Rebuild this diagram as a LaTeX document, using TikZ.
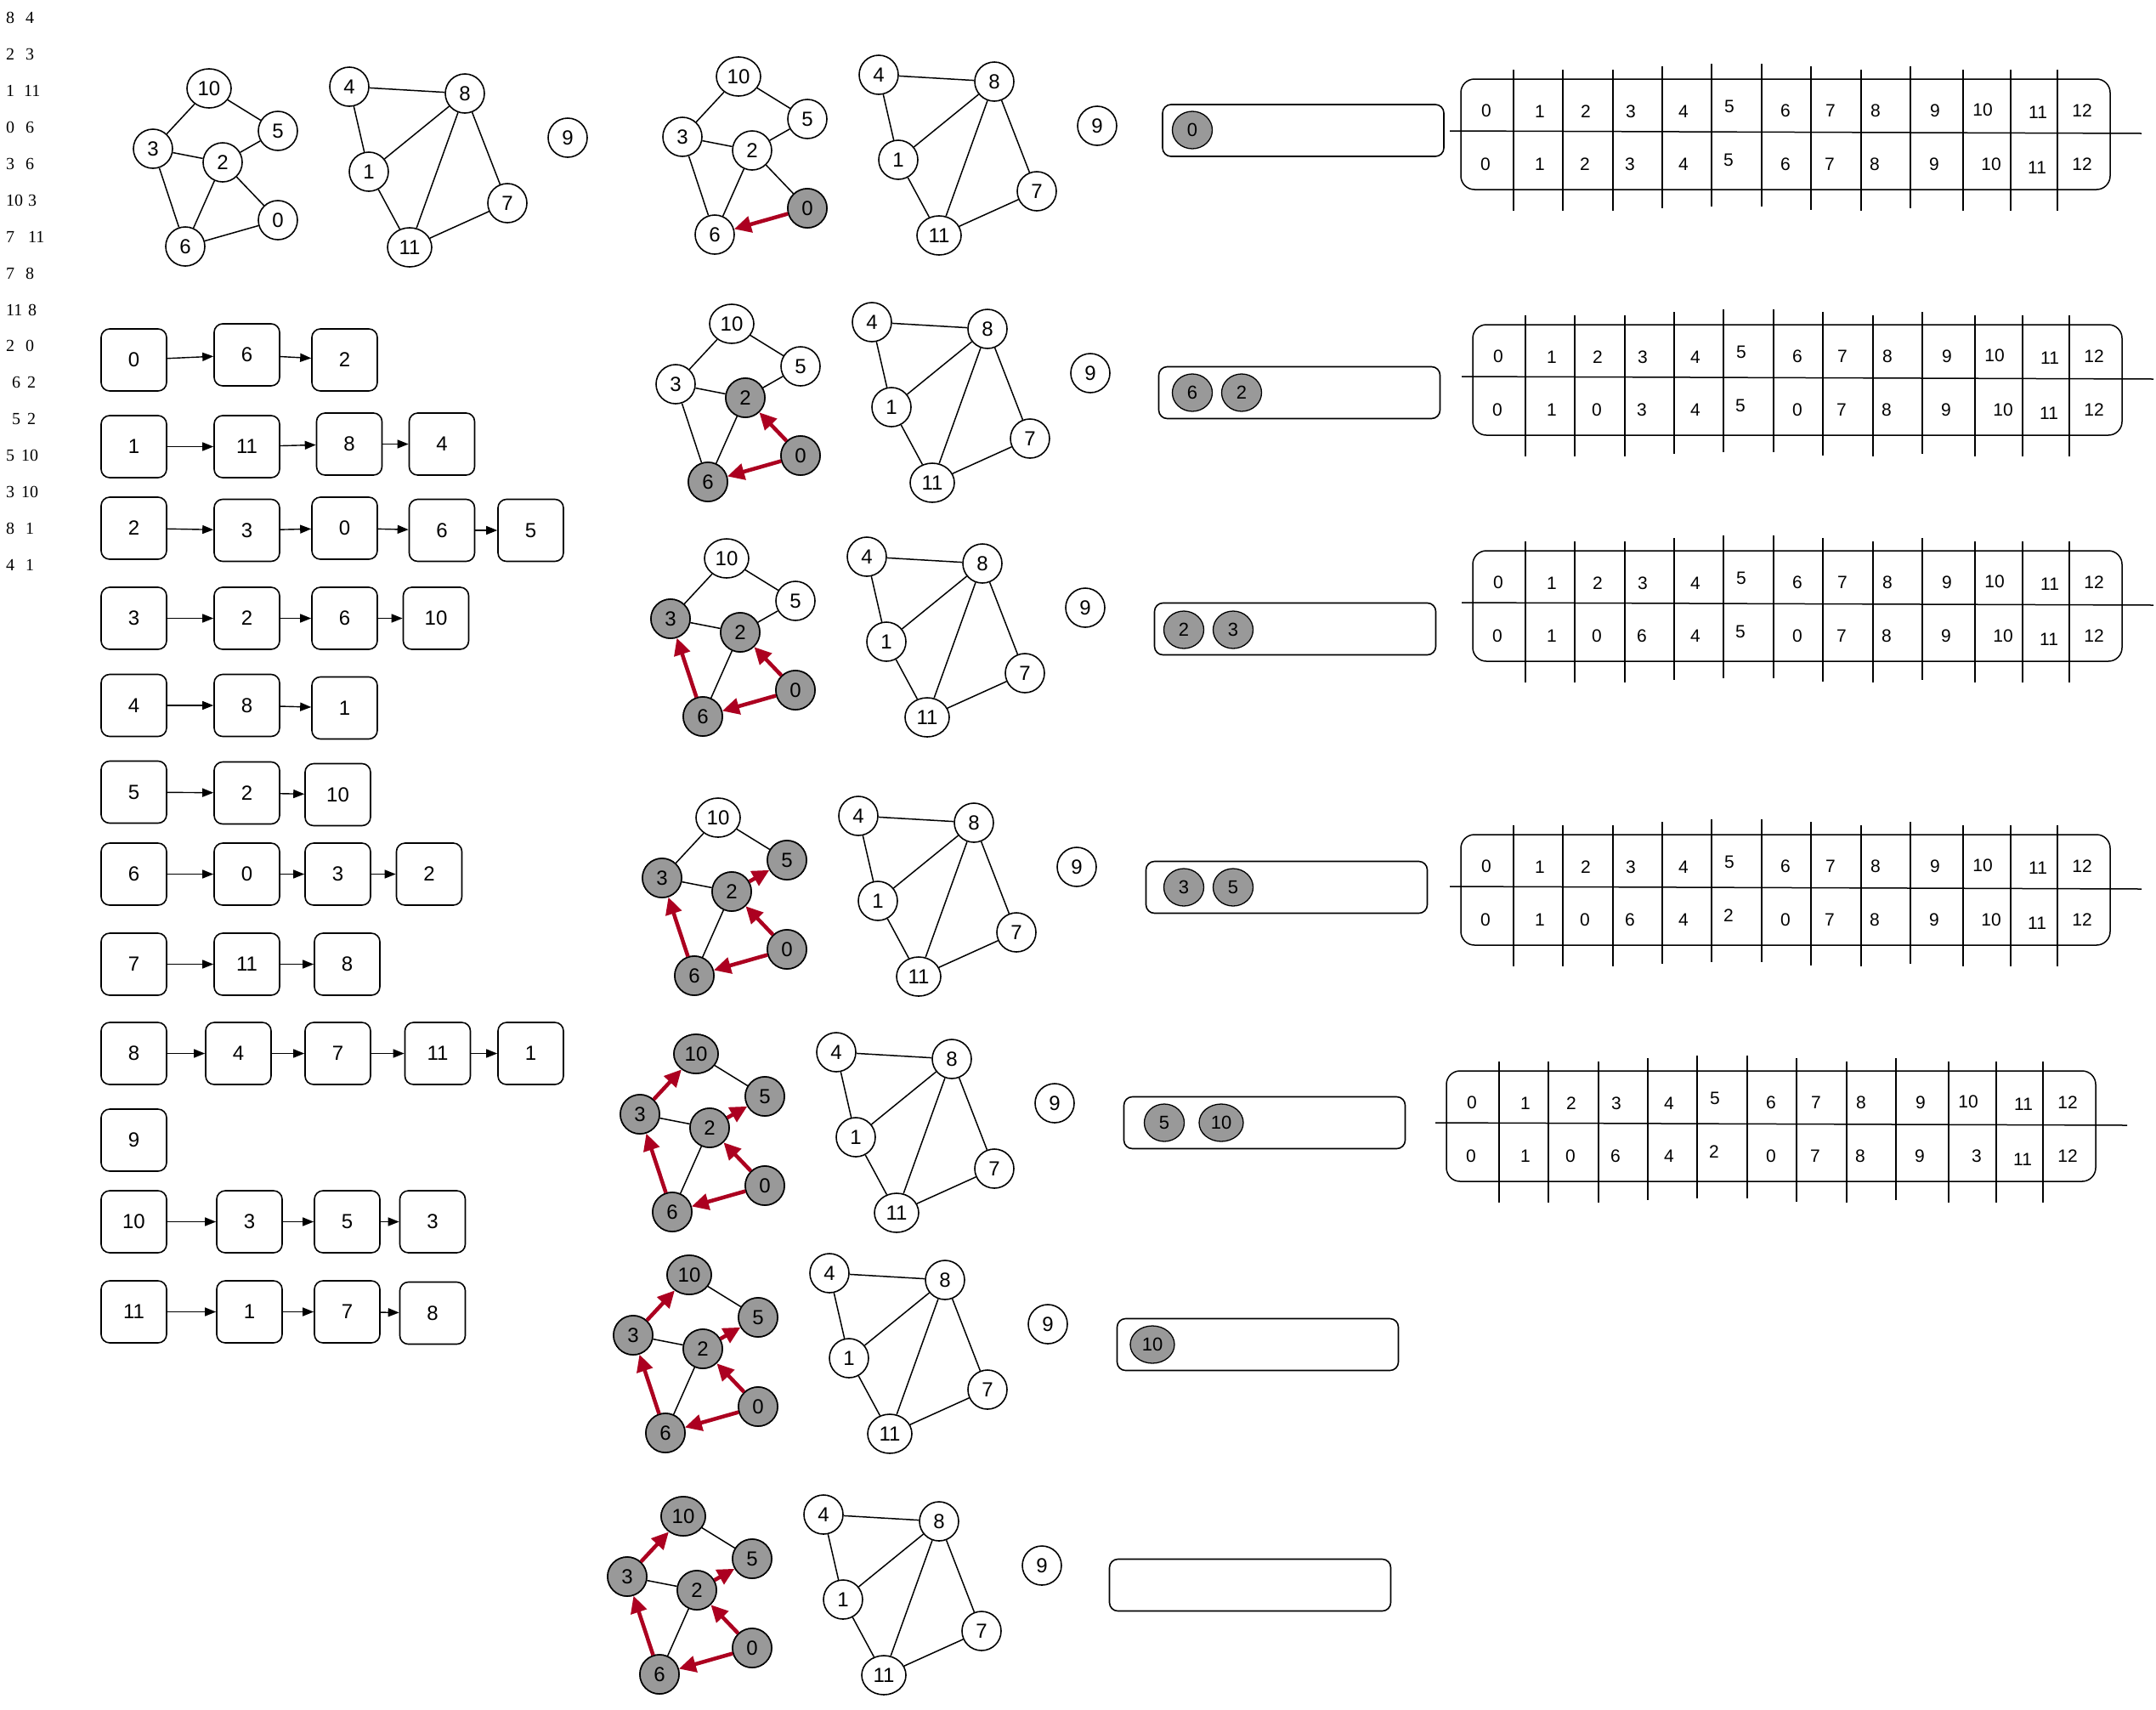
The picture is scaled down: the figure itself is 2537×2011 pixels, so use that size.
\documentclass[tikz,border=0pt]{standalone}
\usepackage{fontspec}
\setmainfont{Liberation Sans}
\newfontfamily\myserif{Liberation Serif}
\usetikzlibrary{shapes.geometric,arrows.meta}
\definecolor{ngray}{HTML}{999999}
\definecolor{redarr}{HTML}{AC0020}
\newcommand\myGfont{\fontsize{24}{28}\selectfont}
\newcommand\myQfont{\fontsize{22}{26}\selectfont}
\newcommand\myTfont{\fontsize{21}{25}\selectfont}
\newcommand\myLfont{\myserif\fontsize{20}{24}\selectfont}
\tikzset{
  gnode/.style={draw, ellipse, fill=white, minimum height=46pt, inner sep=0pt, line width=1.6pt, font=\myGfont},
  gedge/.style={line width=1.5pt},
  redarrow/.style={draw=redarr, line width=4.5pt, -{Triangle[length=20pt,width=19pt]}},
  qbox/.style={draw, rounded corners=10pt, minimum width=331pt, minimum height=61pt, line width=1.6pt},
  qnode/.style={draw, ellipse, fill=ngray, minimum width=47pt, minimum height=44pt, inner sep=0pt, line width=1.3pt, font=\myQfont},
  abox/.style={draw, rounded corners=10pt, minimum width=77pt, minimum height=73pt, line width=1.6pt, font=\myGfont},
  larrow/.style={line width=1.4pt, -{Triangle[length=13pt,width=10pt]}},
  tline/.style={line width=1.5pt},
  tnum/.style={font=\myTfont, inner sep=1pt},
  ltxt/.style={font=\myLfont, anchor=west, inner sep=0pt}
}
% graph copy: #1 prefix, #2 #3 shift, #4 gray nodes, #5 black edges, #6 red arrows
\newcommand\mygraph[6]{%
\begin{scope}[shift={(#2,#3)}]
 \foreach \n/\px/\py in {0/327/259, 1/434/202, 2/262/191, 3/180/175, 4/411/102, 5/327/154, 6/218/290, 7/597/239, 8/547/110, 9/668/162, 10/246/104, 11/482/291}{%
   \pgfmathsetmacro\ww{\n>9?52:46}
   \node[gnode, minimum width=\ww pt] (#1-\n) at (\px,\py) {\n};}
 \foreach \n in {#4}{%
   \pgfmathsetmacro\ww{\n>9?52:46}
   \node[gnode, fill=ngray, minimum width=\ww pt] at (#1-\n) {\n};}
 \foreach \a/\b in {#5}{\draw[gedge] (#1-\a) -- (#1-\b);}
 \foreach \a/\b in {#6}{\draw[redarrow] (#1-\a) -- (#1-\b);}
\end{scope}}
% table: #1 prefix, #2 #3 top-left, #4 bottom values
\newcommand\mytable[4]{%
\begin{scope}[shift={(#2,#3)}]
 \draw[tline, rounded corners=16pt] (0,0) rectangle (764,130);
 \coordinate (#1-hl) at (-13,61);
 \coordinate (#1-hr) at (801,64);
 \draw[tline] (#1-hl) -- (#1-hr);
 \foreach \lx/\ta/\tb [count=\k] in {62/-11/155, 120/-11/155, 179/-11/155, 237/-15/152, 295/-18/150, 354/-18/150, 412/-15/154, 471/-11/155, 529/-15/152, 591/-11/155, 647/-11/155, 702/-11/155}{%
   \coordinate (#1-v\k a) at (\lx,\ta);
   \coordinate (#1-v\k b) at (\lx,\tb);
   \draw[tline] (#1-v\k a) -- (#1-v\k b);}
 \foreach \v/\tx/\ty in {0/30/37, 1/93/38, 2/147/38, 3/200/38, 4/262/38, 5/316/32, 6/382/37, 7/435/37, 8/488/37, 9/558/37, 10/614/36, 11/679/39, 12/731/37}{%
   \node[tnum] (#1-t\v) at (\tx,\ty) {\v};}
 \foreach \v [count=\i] in {#4}{%
   \pgfmathsetmacro\tx{{29,93,146,199,262,315,382,434,487,557,624,678,731}[\i-1]}
   \pgfmathsetmacro\ty{{100,100,100,100,100,95,100,100,100,100,100,104,100}[\i-1]}
   \node[tnum] (#1-b\i) at (\tx,\ty) {\v};}
\end{scope}}
% adjacency row: #1 id, #2 list val/x/y, #3 count
\newcommand\adjrow[3]{%
 \foreach \v/\px/\py [count=\k] in {#2}{\node[abox] (a#1-\k) at (\px,\py) {\v};}
 \ifnum#3>1
 \foreach \k [evaluate=\k as \p using int(\k-1)] in {2,...,#3}{\draw[larrow] (a#1-\p) -- (a#1-\k);}
 \fi}
\begin{document}
\begin{tikzpicture}[x=1pt,y=-1pt]
\fill[white] (0,0) rectangle (2537,2011);
\useasboundingbox (0,0) rectangle (2537,2011);
% edge list text
\foreach \ea/\eb/\xa/\xb [count=\i] in {8/4/7/30, 2/3/7/30, 1/11/7/28, 0/6/7/30, 3/6/7/30, 10/3/7/33, 7/11/7/33, 7/8/7/30, 11/8/7/33, 2/0/7/30, 6/2/14/32, 5/2/14/32, 5/10/7/25, 3/10/7/25, 8/1/7/30, 4/1/7/30}{%
  \pgfmathsetmacro\yy{21+42.93*(\i-1)}
  \node[ltxt] (la\i) at (\xa,\yy) {\ea};
  \node[ltxt] (lb\i) at (\xb,\yy) {\eb};}
% original graph
\mygraph{g0}{0}{0}{}{10/5, 10/3, 3/2, 2/5, 3/6, 2/6, 2/0, 6/0, 4/8, 4/1, 1/8, 1/11, 8/11, 8/7, 7/11}{}
% adjacency lists
\adjrow{0}{0/157.5/423.5, 6/290.5/417.5, 2/405.5/423.5}{3}
\adjrow{1}{1/157.5/525.5, 11/290.5/525.5, 8/411/522.5, 4/520/522.5}{4}
\adjrow{2}{2/157.5/621.5, 3/290.5/624, 0/405.5/621.5, 6/520/624, 5/624.5/624}{5}
\adjrow{3}{3/157.5/727.5, 2/290.5/727.5, 6/405.5/727.5, 10/513/727.5}{4}
\adjrow{4}{4/157.5/830, 8/290.5/830, 1/405.5/833}{3}
\adjrow{5}{5/157.5/932, 2/290.5/933, 10/397.5/935}{3}
\adjrow{6}{6/157.5/1028.5, 0/290.5/1028.5, 3/397.5/1028.5, 2/505/1028.5}{4}
\adjrow{7}{7/157.5/1134.5, 11/290.5/1134.5, 8/408.5/1134.5}{3}
\adjrow{8}{8/157.5/1239.5, 4/280.5/1239.5, 7/397.5/1239.5, 11/515/1239.5, 1/624.5/1239.5}{5}
\adjrow{9}{9/157.5/1341.5}{1}
\adjrow{10}{10/157.5/1437.5, 3/293.5/1437.5, 5/408.5/1437.5, 3/509/1437.5}{4}
\adjrow{11}{11/157.5/1543.5, 1/293.5/1543.5, 7/408.5/1543.5, 8/509/1545}{4}
% BFS stages
\mygraph{g1}{623}{-14}{0}{10/5, 10/3, 3/2, 2/5, 3/6, 2/6, 2/0, 4/8, 4/1, 1/8, 1/11, 8/11, 8/7, 7/11}{0/6}
\mygraph{g2}{615}{277}{0,2,6}{10/5, 10/3, 3/2, 2/5, 3/6, 2/6, 4/8, 4/1, 1/8, 1/11, 8/11, 8/7, 7/11}{0/6, 0/2}
\mygraph{g3}{609}{553}{0,2,6,3}{10/5, 10/3, 3/2, 2/5, 2/6, 4/8, 4/1, 1/8, 1/11, 8/11, 8/7, 7/11}{0/6, 0/2, 6/3}
\mygraph{g4}{599}{858}{0,2,6,3,5}{10/5, 10/3, 3/2, 2/6, 4/8, 4/1, 1/8, 1/11, 8/11, 8/7, 7/11}{0/6, 0/2, 6/3, 2/5}
\mygraph{g5}{573}{1136}{0,2,6,3,5,10}{10/5, 3/2, 2/6, 4/8, 4/1, 1/8, 1/11, 8/11, 8/7, 7/11}{0/6, 0/2, 6/3, 2/5, 3/10}
\mygraph{g6}{565}{1396}{0,2,6,3,5,10}{10/5, 3/2, 2/6, 4/8, 4/1, 1/8, 1/11, 8/11, 8/7, 7/11}{0/6, 0/2, 6/3, 2/5, 3/10}
\mygraph{g7}{558}{1680}{0,2,6,3,5,10}{10/5, 3/2, 2/6, 4/8, 4/1, 1/8, 1/11, 8/11, 8/7, 7/11}{0/6, 0/2, 6/3, 2/5, 3/10}
% queues
\node[qbox] (q1) at (1533.5,153.5) {};
\node[qnode] (q1a) at (1403,153) {0};
\node[qbox] (q2) at (1529,462) {};
\node[qnode] (q2a) at (1403,462) {6};
\node[qnode] (q2b) at (1461,462) {2};
\node[qbox] (q3) at (1524,740) {};
\node[qnode] (q3a) at (1393,741) {2};
\node[qnode] (q3b) at (1451,741) {3};
\node[qbox] (q4) at (1514,1044) {};
\node[qnode] (q4a) at (1393,1044) {3};
\node[qnode] (q4b) at (1451,1044) {5};
\node[qbox] (q5) at (1488,1321) {};
\node[qnode] (q5a) at (1370,1321) {5};
\node[qnode, minimum width=52pt] (q5b) at (1437,1321) {10};
\node[qbox] (q6) at (1480,1582) {};
\node[qnode, minimum width=52pt] (q6a) at (1356,1582) {10};
\node[qbox] (q7) at (1471,1865) {};
% tables
\mytable{t1}{1719}{93}{0,1,2,3,4,5,6,7,8,9,10,11,12}
\mytable{t2}{1733}{382}{0,1,0,3,4,5,0,7,8,9,10,11,12}
\mytable{t3}{1733}{648}{0,1,0,6,4,5,0,7,8,9,10,11,12}
\mytable{t4}{1719}{982}{0,1,0,6,4,2,0,7,8,9,10,11,12}
\mytable{t5}{1702}{1260}{0,1,0,6,4,2,0,7,8,9,3,11,12}
\end{tikzpicture}
\end{document}
